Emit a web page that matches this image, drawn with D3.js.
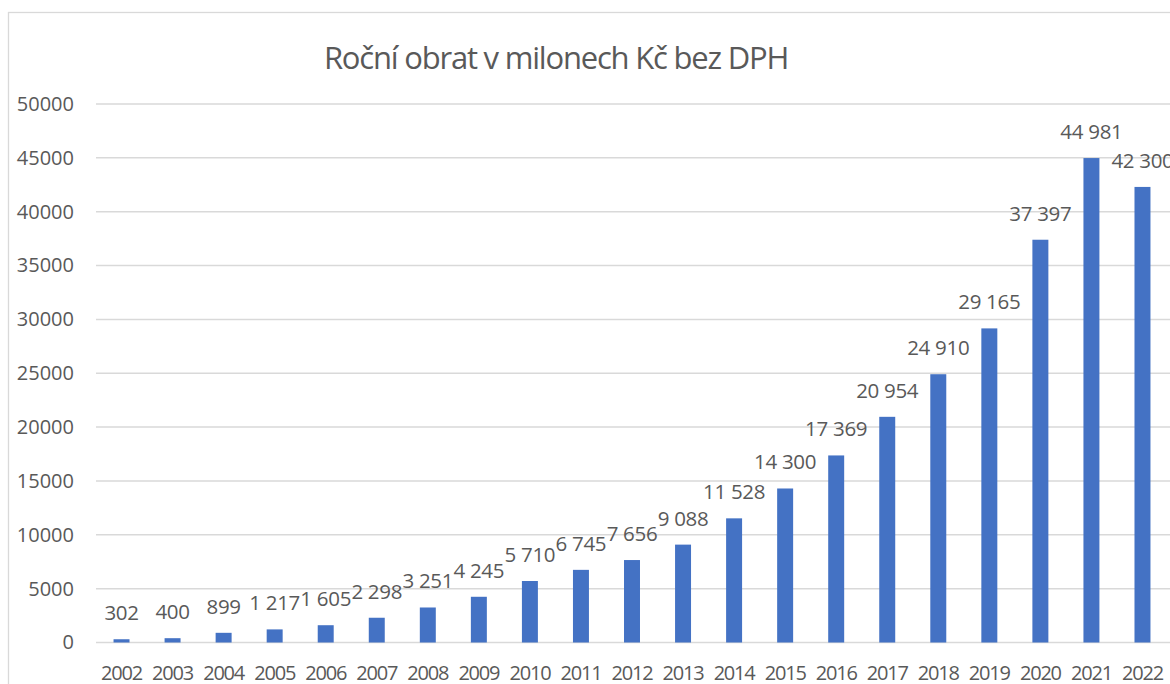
<!DOCTYPE html>
<html lang="cs">
<head>
  <meta charset="UTF-8">
  <title>Roční obrat</title>
  <style>
    body { margin: 0; background: #fff; }
    text { font-family: "Open Sans", sans-serif; fill: #595959; }
  </style>
</head>
<body>
  <svg id="svg" width="1170" height="684"></svg>
  <script src="https://d3js.org/d3.v7.min.js"></script>
  <script>
    // data
    const years = ['2002', '2003', '2004', '2005', '2006', '2007', '2008', '2009', '2010', '2011', '2012',
      '2013', '2014', '2015', '2016', '2017', '2018', '2019', '2020', '2021', '2022']
    const turnover = [302, 400, 899, 1217, 1605, 2298, 3251, 4245, 5710, 6745, 7656,
      9088, 11528, 14300, 17369, 20954, 24910, 29165, 37397, 44981, 42300]
    const yTicks = [0, 5000, 10000, 15000, 20000, 25000, 30000, 35000, 40000, 45000, 50000]
    const title = 'Roční obrat v milonech Kč bez DPH'

    const data = years.map((y, i) => ({ year: y, value: turnover[i] }))

    const svg = d3.select('#svg')

    // chart frame (cut off at right and bottom like the screenshot)
    svg.append('rect')
      .attr('x', 8.5).attr('y', 12.5)
      .attr('width', 1200).attr('height', 700)
      .attr('fill', 'none')
      .attr('stroke', '#d9d9d9')
      .attr('stroke-width', 1.3)

    const left = 96, right = 1168
    const xscale = d3.scaleBand()
      .domain(years)
      .range([left, right])
      .paddingInner(0.687)
      .paddingOuter(0.3435)

    const yscale = d3.scaleLinear()
      .domain([0, 50000])
      .range([642.5, 104])

    // gridlines
    svg.append('g')
      .selectAll('line')
      .data(yTicks)
      .enter()
      .append('line')
      .attr('x1', left)
      .attr('x2', 1170)
      .attr('y1', d => yscale(d))
      .attr('y2', d => yscale(d))
      .attr('stroke', '#d9d9d9')
      .attr('stroke-width', 1.5)

    // y axis labels
    const leftAxis = d3.axisLeft(yscale)
      .tickValues(yTicks)
      .tickFormat(d3.format('d'))
      .tickSize(0)
      .tickPadding(0)
    const gy = svg.append('g')
      .attr('transform', 'translate(74, 0)')
      .call(leftAxis)
    gy.select('.domain').remove()
    gy.selectAll('text')
      .attr('font-size', 20)
      .attr('font-family', null)
      .attr('fill', null)

    // bars
    svg.append('g')
      .selectAll('rect')
      .data(data)
      .enter()
      .append('rect')
      .attr('fill', '#4472c4')
      .attr('x', d => xscale(d.year))
      .attr('y', d => yscale(d.value))
      .attr('width', xscale.bandwidth())
      .attr('height', d => yscale(0) - yscale(d.value))

    // data labels with space as thousands separator
    const fmt = d3.formatLocale({ decimal: ',', thousands: '\u00a0', grouping: [3], currency: ['', ' Kč'] }).format(',d')
    svg.append('g')
      .selectAll('text')
      .data(data)
      .enter()
      .append('text')
      .attr('x', d => xscale(d.year) + xscale.bandwidth() / 2)
      .attr('y', d => yscale(d.value) - 19)
      .attr('text-anchor', 'middle')
      .attr('font-size', 20.5)
      .attr('letter-spacing', -0.3)
      .text(d => fmt(d.value))

    // x axis labels
    const bottomAxis = d3.axisBottom(xscale)
      .tickSize(0)
      .tickPadding(0)
    const gx = svg.append('g')
      .attr('transform', 'translate(0, 680)')
      .call(bottomAxis)
    gx.select('.domain').remove()
    gx.selectAll('text')
      .attr('dy', 0)
      .attr('font-size', 20)
      .attr('letter-spacing', -1.2)
      .attr('font-family', null)
      .attr('fill', null)

    // title
    svg.append('text')
      .attr('x', 556)
      .attr('y', 69)
      .attr('text-anchor', 'middle')
      .attr('font-size', 31)
      .attr('letter-spacing', -1.2)
      .text(title)
  </script>
</body>
</html>
